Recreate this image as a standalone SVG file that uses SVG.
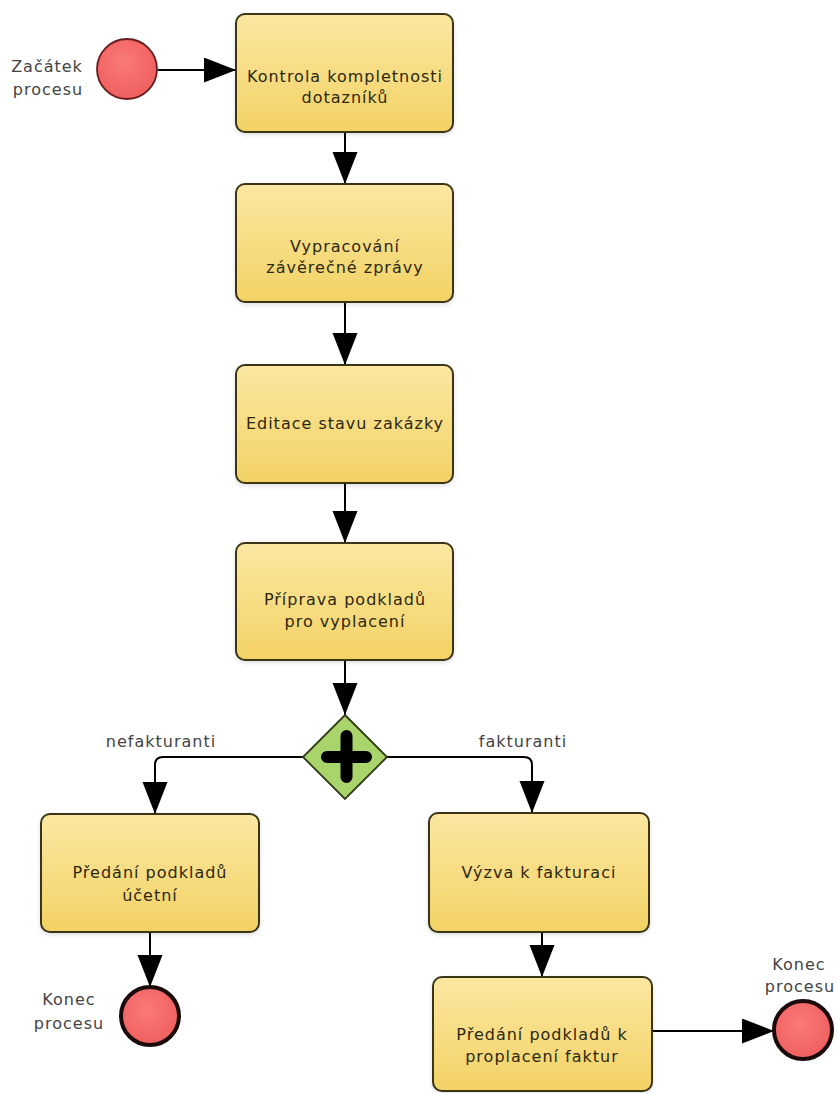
<svg xmlns="http://www.w3.org/2000/svg" width="837" height="1093" viewBox="0 0 837 1093">
  <defs>
    <linearGradient id="taskFill" x1="0" y1="0" x2="0" y2="1">
      <stop offset="0" stop-color="#fbe7a2"/>
      <stop offset="1" stop-color="#f3d264"/>
    </linearGradient>
    <radialGradient id="eventFill" cx="0.45" cy="0.4" r="0.65">
      <stop offset="0" stop-color="#fa7a78"/>
      <stop offset="1" stop-color="#ee5d5d"/>
    </radialGradient>
    <marker id="arrow" markerUnits="userSpaceOnUse" markerWidth="34" markerHeight="26" refX="32" refY="12.5" orient="auto">
      <path d="M0,0 L32,12.5 L0,25 Z" fill="#000"/>
    </marker>
    <filter id="soft" x="-10%" y="-10%" width="120%" height="125%">
      <feDropShadow dx="0" dy="2" stdDeviation="2" flood-color="#000" flood-opacity="0.12"/>
    </filter>
  </defs>
  <style>
    .task rect { fill: url(#taskFill); stroke: #3b3418; stroke-width: 2; filter: url(#soft); }
    .task text { font-family: "DejaVu Sans", Verdana, sans-serif; font-size: 16px; letter-spacing: 1px; fill: #2c2810; text-anchor: middle; }
    .label { font-family: "DejaVu Sans", Verdana, sans-serif; font-size: 16px; letter-spacing: 1px; fill: #444; text-anchor: middle; }
    .start circle { fill: url(#eventFill); stroke: #6a1c1c; stroke-width: 1.8; }
    .end circle { fill: url(#eventFill); stroke: #1a0a0a; stroke-width: 4; }
    .flow { fill: none; stroke: #000; stroke-width: 2; marker-end: url(#arrow); }
  </style>

  <rect width="837" height="1093" fill="#fff"/>

  <!-- sequence flows -->
  <g id="connectors">
    <path class="flow" d="M158,70 H236"/>
    <path class="flow" d="M345,132 V184"/>
    <path class="flow" d="M345,302 V365"/>
    <path class="flow" d="M345,483 V543"/>
    <path class="flow" d="M345,660 V715"/>
    <path class="flow" d="M304,757 H163 Q155,757 155,765 V814"/>
    <path class="flow" d="M387,757 H524 Q532,757 532,765 V813"/>
    <path class="flow" d="M542,932 V977"/>
    <path class="flow" d="M150,932 V987"/>
    <path class="flow" d="M652,1031 H774"/>
    <text class="label" x="161" y="747">nefakturanti</text>
    <text class="label" x="523" y="747">fakturanti</text>
  </g>

  <g id="start" class="start">
    <circle cx="127" cy="69" r="30"/>
    <text class="label" x="47" y="72">Začátek</text>
    <text class="label" x="48" y="95">procesu</text>
  </g>

  <g id="task-kontrola" class="task">
    <rect x="236" y="14" width="217" height="118" rx="9"/>
    <text x="345" y="82">Kontrola kompletnosti</text>
    <text x="345" y="103">dotazníků</text>
  </g>

  <g id="task-vypracovani" class="task">
    <rect x="236" y="184" width="217" height="118" rx="9"/>
    <text x="345" y="252">Vypracování</text>
    <text x="345" y="273">závěrečné zprávy</text>
  </g>

  <g id="task-editace" class="task">
    <rect x="236" y="365" width="217" height="118" rx="9"/>
    <text x="345" y="429">Editace stavu zakázky</text>
  </g>

  <g id="task-priprava" class="task">
    <rect x="236" y="543" width="217" height="117" rx="9"/>
    <text x="345" y="605">Příprava podkladů</text>
    <text x="345" y="627">pro vyplacení</text>
  </g>

  <g id="gateway">
    <path d="M345,715 L387,757 L345,799 L303,757 Z" fill="#a9d46c" stroke="#2f3a14" stroke-width="1.8"/>
    <path d="M327,757 H366 M346.5,736 V777" stroke="#000" stroke-width="12" stroke-linecap="round" fill="none"/>
  </g>

  <g id="task-predani-ucetni" class="task">
    <rect x="41" y="814" width="218" height="118" rx="9"/>
    <text x="150" y="878">Předání podkladů</text>
    <text x="150" y="901">účetní</text>
  </g>

  <g id="task-vyzva" class="task">
    <rect x="429" y="813" width="220" height="119" rx="9"/>
    <text x="539" y="878">Výzva k fakturaci</text>
  </g>

  <g id="task-predani-faktur" class="task">
    <rect x="433" y="977" width="219" height="114" rx="9"/>
    <text x="542" y="1040">Předání podkladů k</text>
    <text x="542" y="1062">proplacení faktur</text>
  </g>

  <g id="end-left" class="end">
    <circle cx="150" cy="1016" r="29"/>
    <text class="label" x="69" y="1005">Konec</text>
    <text class="label" x="69" y="1029">procesu</text>
  </g>

  <g id="end-right" class="end">
    <circle cx="803" cy="1030" r="29"/>
    <text class="label" x="799" y="970">Konec</text>
    <text class="label" x="800" y="992">procesu</text>
  </g>
</svg>
